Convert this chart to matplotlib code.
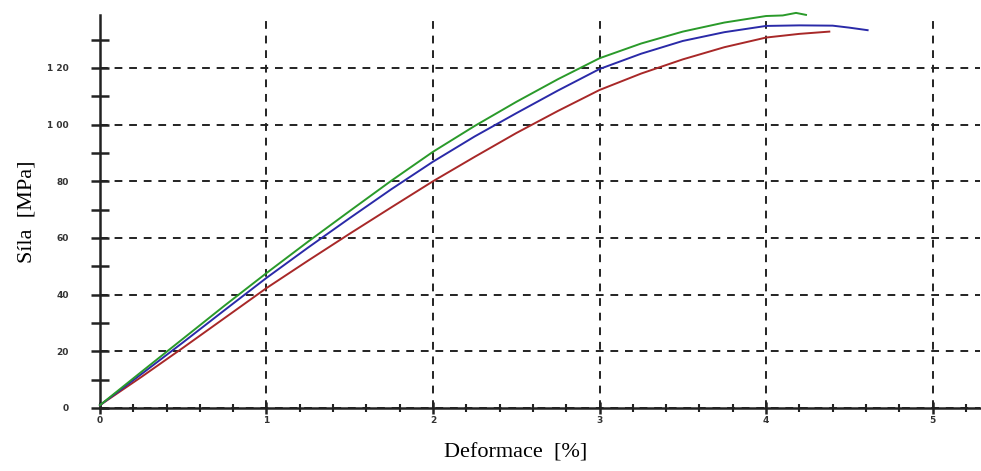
import matplotlib
matplotlib.use('Agg')
import matplotlib.pyplot as plt
from matplotlib.ticker import MultipleLocator

# strain [%] and force [MPa]
green_x = [0, 0.25, 0.5, 0.75, 1.0, 1.25, 1.5, 1.75, 2.0, 2.25, 2.5, 2.75, 3.0, 3.25, 3.5, 3.75, 4.0, 4.1, 4.18, 4.24]
green_y = [1, 12.8, 24.5, 36.2, 47.6, 58.7, 69.5, 80.2, 90.4, 99.5, 108.0, 116.0, 123.4, 128.6, 132.8, 136.0, 138.3, 138.5, 139.4, 138.7]

blue_x = [0, 0.25, 0.5, 0.75, 1.0, 1.25, 1.5, 1.75, 2.0, 2.25, 2.5, 2.75, 3.0, 3.25, 3.5, 3.75, 4.0, 4.2, 4.4, 4.5, 4.61]
blue_y = [1, 12.0, 23.2, 34.6, 45.9, 56.6, 67.0, 77.2, 86.9, 95.8, 104.0, 112.0, 119.6, 125.0, 129.5, 132.6, 134.8, 135.0, 134.9, 134.2, 133.3]

red_x = [0, 0.25, 0.5, 0.75, 1.0, 1.25, 1.5, 1.75, 2.0, 2.25, 2.5, 2.75, 3.0, 3.25, 3.5, 3.75, 4.0, 4.2, 4.38]
red_y = [1, 11.0, 21.3, 31.8, 42.3, 52.0, 61.5, 70.8, 80.0, 88.6, 97.0, 104.8, 112.2, 118.0, 123.0, 127.3, 130.7, 132.0, 132.8]

x_ticks = [0, 1, 2, 3, 4, 5]
y_ticks = [0, 20, 40, 60, 80, 100, 120]
y_labels = ['0', '20', '40', '60', '80', '1 00', '1 20']

plt.rcParams['font.family'] = ['Liberation Serif', 'DejaVu Serif']

fig = plt.figure(figsize=(9.81, 4.71), dpi=100)
ax = fig.add_axes([0.1019, 0.1338, 0.8971, 0.834])

ax.plot(red_x, red_y, color='#a82828', lw=1.4, clip_on=False, zorder=3)
ax.plot(blue_x, blue_y, color='#2a2aa8', lw=1.4, clip_on=False, zorder=3)
ax.plot(green_x, green_y, color='#2a9a2a', lw=1.4, clip_on=False, zorder=3)

ax.set_xlim(0, 5.285)
ax.set_ylim(0, 138.6)

for s in ['top', 'right']:
    ax.spines[s].set_visible(False)
for s in ['left', 'bottom']:
    ax.spines[s].set_linewidth(1.8)
    ax.spines[s].set_color('#222222')

ax.set_xticks(x_ticks)
ax.set_xticklabels([str(t) for t in x_ticks])
ax.set_yticks(y_ticks)
ax.set_yticklabels(y_labels)
ax.xaxis.set_minor_locator(MultipleLocator(0.2))
ax.yaxis.set_minor_locator(MultipleLocator(10))

ax.tick_params(axis='y', which='both', direction='inout', length=13, width=1.8,
               color='#222222', labelsize=6.5, pad=16, labelcolor='#333333')
ax.tick_params(axis='x', which='major', direction='inout', length=8, width=1.8,
               color='#222222', labelsize=6.5, pad=2, labelcolor='#333333')
ax.tick_params(axis='x', which='minor', direction='inout', length=6, width=1.5,
               color='#222222')
for lab in ax.get_xticklabels() + ax.get_yticklabels():
    lab.set_fontweight('bold')
    lab.set_family(['DejaVu Sans'])

ax.grid(True, which='major', color='#222222', linestyle=(0, (4, 3.5)), linewidth=1.4)

ax.set_xlabel('Deformace  [%]', fontsize=16)
ax.xaxis.set_label_coords(0.472, -0.09)
ax.set_ylabel('Síla  [MPa]', fontsize=16)
ax.yaxis.set_label_coords(-0.072, 0.5)

fig.savefig('out.png', dpi=100)
